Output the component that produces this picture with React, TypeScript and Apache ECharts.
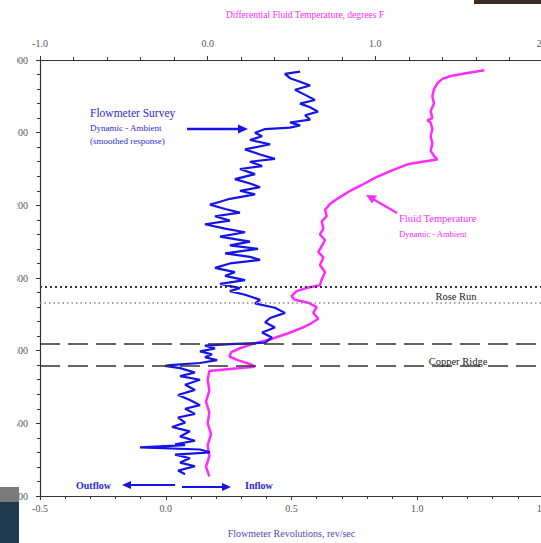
import React, { useEffect, useRef } from "react";
import * as echarts from "echarts";

// Depth axis ticks (ft) – only the trailing "00" is visible in the reference
const depthMin = 3000;
const depthMax = 3600;

// Flowmeter survey (bottom axis, rev/sec) vs depth
const blueDepth = [3016,3019,3025,3030,3035,3041,3048,3055,3060,3065,3071,3076,3082,3086,3090,3093,3095,3100,3105,3110,3116,3123,3130,3136,3140,3146,3150,3157,3164,3170,3175,3180,3185,3191,3195,3199,3205,3210,3215,3221,3226,3232,3237,3243,3250,3255,3260,3266,3271,3275,3280,3286,3292,3297,3303,3308,3314,3318,3323,3330,3335,3341,3348,3355,3361,3368,3375,3382,3389,3391,3393,3397,3401,3405,3409,3413,3417,3420,3421,3424,3430,3435,3440,3447,3454,3461,3468,3475,3480,3487,3492,3499,3505,3511,3518,3524,3529,3530,3533,3536,3540,3543,3548,3554,3559,3565,3570];
const blueFlow = [0.534,0.474,0.494,0.534,0.574,0.514,0.554,0.593,0.534,0.574,0.605,0.554,0.574,0.494,0.534,0.494,0.395,0.355,0.383,0.335,0.415,0.315,0.375,0.434,0.335,0.383,0.295,0.355,0.275,0.335,0.375,0.295,0.355,0.255,0.216,0.176,0.236,0.295,0.196,0.255,0.156,0.236,0.315,0.216,0.335,0.255,0.367,0.236,0.335,0.375,0.255,0.196,0.275,0.236,0.315,0.216,0.295,0.255,0.315,0.375,0.355,0.434,0.474,0.415,0.395,0.434,0.383,0.422,0.395,0.255,0.156,0.196,0.136,0.184,0.156,0.204,0.136,0.017,-0.003,0.057,0.116,0.057,0.136,0.077,0.116,0.049,0.096,0.136,0.077,0.116,0.049,0.077,0.025,0.096,0.057,0.116,0.037,0.077,-0.102,0.136,0.176,0.037,0.096,0.057,0.116,0.049,0.077];

// Differential fluid temperature (top axis, deg F) vs depth
const tempDepth = [3014,3018,3022,3026,3032,3040,3050,3060,3070,3080,3083,3086,3095,3105,3115,3125,3132,3137,3140,3143,3152,3162,3172,3180,3190,3198,3206,3215,3222,3232,3240,3248,3256,3264,3272,3282,3292,3302,3310,3313,3318,3325,3330,3334,3340,3348,3356,3362,3368,3376,3384,3390,3396,3402,3408,3413,3419,3422,3426,3428,3440,3455,3470,3485,3500,3515,3530,3545,3560,3573];
const tempDiff = [1.65,1.55,1.45,1.40,1.37,1.35,1.34,1.35,1.33,1.34,1.31,1.33,1.34,1.33,1.34,1.33,1.35,1.37,1.28,1.20,1.10,1.00,0.92,0.85,0.78,0.73,0.70,0.71,0.68,0.69,0.67,0.70,0.68,0.66,0.69,0.67,0.70,0.68,0.67,0.60,0.53,0.50,0.52,0.60,0.65,0.63,0.66,0.62,0.57,0.48,0.38,0.28,0.20,0.14,0.13,0.18,0.26,0.28,0.10,0.01,0.0,0.01,-0.01,0.01,0.0,0.02,0.0,0.01,-0.01,0.01];

// Formation boundaries (depth)
const roseRunTop = 3312;
const roseRunBottom = 3334;
const copperRidgeTop = 3391;
const copperRidgeBottom = 3421;

const SERIF = "Liberation Serif, Times New Roman, serif";
const BLUE = "#1414e6";
const MAGENTA = "#ff2bff";

export default function App() {
  const ref = useRef<HTMLDivElement>(null);
  useEffect(() => {
    if (!ref.current) return;
    const chart = echarts.init(ref.current, null, { renderer: "svg" });
    const blueData = blueDepth.map((d, i) => [blueFlow[i], d]);
    const tempData = tempDepth.map((d, i) => [tempDiff[i], d]);
    const axisLabel = { color: "#555", fontFamily: SERIF, fontSize: 10 };
    chart.setOption({
      animation: false,
      backgroundColor: "#fff",
      grid: { left: 40, right: 17, top: 60, bottom: 42 },
      xAxis: [
        {
          type: "value", position: "bottom", min: -0.5, max: 1.5, interval: 0.5,
          axisLine: { onZero: false, lineStyle: { color: "#333", width: 1.2 } },
          axisTick: { show: true, length: 4, lineStyle: { color: "#333" } },
          minorTick: { show: true, splitNumber: 5, length: 3, lineStyle: { color: "#333" } },
          splitLine: { show: false },
          axisLabel: { ...axisLabel, margin: 7, formatter: (v: number) => v.toFixed(1) },
          name: "Flowmeter Revolutions, rev/sec",
          nameLocation: "middle", nameGap: 32,
          nameTextStyle: { color: "#4a4ab8", fontFamily: SERIF, fontSize: 10 },
        },
        {
          type: "value", position: "top", min: -1, max: 2, interval: 1,
          axisLine: { onZero: false, lineStyle: { color: "#333", width: 1.2 } },
          axisTick: { show: true, length: 4, lineStyle: { color: "#333" } },
          minorTick: { show: true, splitNumber: 5, length: 3, lineStyle: { color: "#333" } },
          splitLine: { show: false },
          axisLabel: { ...axisLabel, margin: 12, formatter: (v: number) => v.toFixed(1) },
        },
      ],
      yAxis: {
        type: "value", inverse: true, min: depthMin, max: depthMax, interval: 100,
        axisLine: { show: true, onZero: false, lineStyle: { color: "#333", width: 1.2 } },
        axisTick: { show: true, length: 4, lineStyle: { color: "#333" } },
        minorTick: { show: true, splitNumber: 5, length: 3, lineStyle: { color: "#333" } },
        splitLine: { show: false },
        axisLabel: { ...axisLabel, margin: 12 },
      },
      series: [
        {
          type: "line", xAxisIndex: 1, yAxisIndex: 0, data: tempData,
          symbol: "none", lineStyle: { color: MAGENTA, width: 2.5 }, z: 3,
        },
        {
          type: "line", xAxisIndex: 0, yAxisIndex: 0, data: blueData,
          symbol: "none", lineStyle: { color: BLUE, width: 2.2 }, z: 4,
          markLine: {
            silent: true, symbol: "none", label: { show: false },
            data: [
              { yAxis: roseRunTop, lineStyle: { type: [2, 3], color: "#333", width: 2 } },
              { yAxis: roseRunBottom, lineStyle: { type: [1.5, 3], color: "#888", width: 1.5 } },
              { yAxis: copperRidgeTop, lineStyle: { type: [20, 8], color: "#333", width: 1.6 } },
              { yAxis: copperRidgeBottom, lineStyle: { type: [20, 8], color: "#333", width: 1.6 } },
            ],
          },
        },
      ],
      graphic: [
        // white cover over the cropped left part of the depth labels
        { type: "rect", shape: { x: 0, y: 0, width: 17, height: 543 }, style: { fill: "#fff" }, z: 100 },
        { type: "rect", shape: { x: 0, y: 487, width: 19, height: 15 }, style: { fill: "#7a7a7a" }, z: 101 },
        { type: "rect", shape: { x: 0, y: 502, width: 19, height: 41 }, style: { fill: "#1e3a4e" }, z: 101 },
        { type: "rect", shape: { x: 474, y: 0, width: 70, height: 4 }, style: { fill: "#3a2a22" }, z: 101 },
        { type: "text", x: 305, y: 15, style: { text: "Differential Fluid Temperature, degrees F", fill: MAGENTA, font: `9.5px ${SERIF}`, align: "center", verticalAlign: "middle" }, z: 50 },
        // Flowmeter annotation
        { type: "text", x: 90, y: 113, style: { text: "Flowmeter Survey", fill: "#2a2ad8", font: `11.5px ${SERIF}`, verticalAlign: "middle" }, z: 50 },
        { type: "text", x: 90, y: 128, style: { text: "Dynamic - Ambient", fill: "#2a2ad8", font: `9px ${SERIF}`, verticalAlign: "middle" }, z: 50 },
        { type: "text", x: 90, y: 141, style: { text: "(smoothed response)", fill: "#2a2ad8", font: `9px ${SERIF}`, verticalAlign: "middle" }, z: 50 },
        { type: "line", shape: { x1: 187, y1: 129, x2: 240, y2: 129 }, style: { stroke: BLUE, lineWidth: 2.5 }, z: 50 },
        { type: "polygon", shape: { points: [[248, 129], [238, 124.5], [238, 133.5]] }, style: { fill: BLUE }, z: 50 },
        // Fluid temperature annotation
        { type: "text", x: 399, y: 218, style: { text: "Fluid Temperature", fill: MAGENTA, font: `10.5px ${SERIF}`, verticalAlign: "middle" }, z: 50 },
        { type: "text", x: 399, y: 234, style: { text: "Dynamic - Ambient", fill: MAGENTA, font: `8.5px ${SERIF}`, verticalAlign: "middle" }, z: 50 },
        { type: "line", shape: { x1: 397, y1: 213, x2: 373, y2: 199 }, style: { stroke: MAGENTA, lineWidth: 2.5 }, z: 50 },
        { type: "polygon", shape: { points: [[366, 195], [377, 195.5], [372, 203.5]] }, style: { fill: MAGENTA }, z: 50 },
        // Formation labels
        { type: "text", x: 456, y: 296, style: { text: "Rose Run", fill: "#222", font: `10.5px ${SERIF}`, align: "center", verticalAlign: "middle" }, z: 50 },
        { type: "text", x: 458, y: 361, style: { text: "Copper Ridge", fill: "#222", font: `10.5px ${SERIF}`, align: "center", verticalAlign: "middle" }, z: 50 },
        // Outflow / Inflow
        { type: "text", x: 76, y: 485, style: { text: "Outflow", fill: "#2a2ad8", font: `bold 10px ${SERIF}`, verticalAlign: "middle" }, z: 50 },
        { type: "line", shape: { x1: 175, y1: 485, x2: 130, y2: 485 }, style: { stroke: BLUE, lineWidth: 2.2 }, z: 50 },
        { type: "polygon", shape: { points: [[122, 485], [131, 481], [131, 489]] }, style: { fill: BLUE }, z: 50 },
        { type: "text", x: 245, y: 485, style: { text: "Inflow", fill: "#2a2ad8", font: `bold 10px ${SERIF}`, verticalAlign: "middle" }, z: 50 },
        { type: "line", shape: { x1: 182, y1: 487, x2: 222, y2: 487 }, style: { stroke: BLUE, lineWidth: 2.2 }, z: 50 },
        { type: "polygon", shape: { points: [[231, 487], [222, 483], [222, 491]] }, style: { fill: BLUE }, z: 50 },
      ],
    });
    return () => chart.dispose();
  }, []);
  return (
    <div style={{ position: "absolute", left: 0, top: 0, width: 541, height: 543, overflow: "hidden", background: "#fff" }}>
      <div ref={ref} style={{ position: "absolute", left: 0, top: 0, width: 560, height: 543 }} />
    </div>
  );
}
